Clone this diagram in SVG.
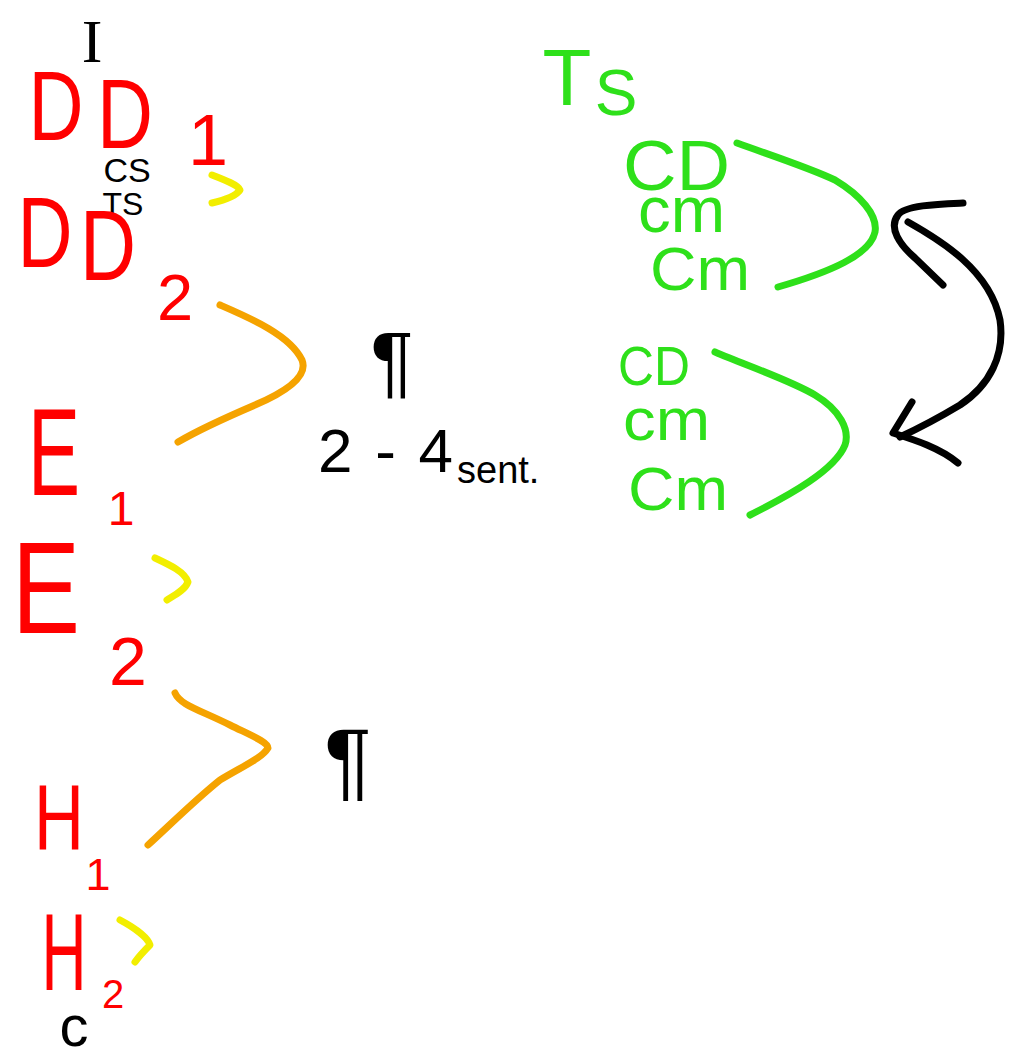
<svg xmlns="http://www.w3.org/2000/svg" width="1017" height="1057" viewBox="0 0 1017 1057">
<style>
.t{font-family:"Liberation Sans",Arial,sans-serif;text-anchor:middle}
.r{fill:#ff0000}.k{fill:#000}.g{fill:#2ee01a}
.s{fill:none;stroke-linecap:round;stroke-linejoin:round;stroke-width:7}
.yl{stroke:#f2ee00}.or{stroke:#f5a300}.gr{stroke:#2ee01a}.bk{stroke:#000}
</style>
<rect width="1017" height="1057" fill="#fff"/>
<g id="intro"><text class="k" x="92" y="62" font-family="Liberation Serif,serif" font-size="62" text-anchor="middle">I</text></g>
<g id="dd1">
<text class="t r" x="56" y="140" font-size="98" textLength="55" lengthAdjust="spacingAndGlyphs">D</text>
<text class="t r" x="125" y="148" font-size="98" textLength="56" lengthAdjust="spacingAndGlyphs">D</text>
<text class="t r" x="208" y="165" font-size="72">1</text>
<text class="t k" x="127" y="182" font-size="34">CS</text>
<text class="t k" x="123" y="215" font-size="32">TS</text>
</g>
<g id="dd2">
<text class="t r" x="45" y="267" font-size="100" textLength="55" lengthAdjust="spacingAndGlyphs">D</text>
<text class="t r" x="108" y="280" font-size="100" textLength="56" lengthAdjust="spacingAndGlyphs">D</text>
<text class="t r" x="175" y="320" font-size="65">2</text>
</g>
<g id="para1">
<text class="t k" x="392" y="388" font-size="80">¶</text>
<text class="k" x="318" y="472" font-family="Liberation Sans,sans-serif" font-size="62" textLength="135" lengthAdjust="spacing">2-4</text>
<text class="k" x="457" y="483" font-family="Liberation Sans,sans-serif" font-size="38">sent.</text>
</g>
<g id="e1">
<text class="t r" x="54" y="495" font-size="125" textLength="52" lengthAdjust="spacingAndGlyphs">E</text>
<text class="t r" x="121" y="525" font-size="48">1</text>
</g>
<g id="e2">
<text class="t r" x="46" y="633" font-size="130" textLength="68" lengthAdjust="spacingAndGlyphs">E</text>
<text class="t r" x="128" y="685" font-size="68">2</text>
</g>
<g id="para2"><text class="t k" x="348" y="790" font-size="88">¶</text></g>
<g id="h1">
<text class="t r" x="59" y="850" font-size="92" textLength="50" lengthAdjust="spacingAndGlyphs">H</text>
<text class="t r" x="98" y="890" font-size="45">1</text>
</g>
<g id="h2">
<text class="t r" x="64" y="990" font-size="110" textLength="45" lengthAdjust="spacingAndGlyphs">H</text>
<text class="t r" x="113" y="1008" font-size="40">2</text>
<text class="t k" x="74" y="1046" font-size="58">c</text>
</g>
<g id="ts-top">
<text class="t g" x="567" y="105" font-size="80">T</text>
<text class="t g" x="616" y="115" font-size="64">S</text>
<text class="g" x="623" y="190" font-family="Liberation Sans,sans-serif" font-size="70" textLength="107" lengthAdjust="spacingAndGlyphs">CD</text>
<text class="g" x="638" y="232" font-family="Liberation Sans,sans-serif" font-size="65" textLength="87" lengthAdjust="spacingAndGlyphs">cm</text>
<text class="g" x="650" y="290" font-family="Liberation Sans,sans-serif" font-size="62" textLength="100" lengthAdjust="spacingAndGlyphs">Cm</text>
</g>
<g id="ts-bottom">
<text class="g" x="618" y="385" font-family="Liberation Sans,sans-serif" font-size="56" textLength="72" lengthAdjust="spacingAndGlyphs">CD</text>
<text class="g" x="623" y="440" font-family="Liberation Sans,sans-serif" font-size="60" textLength="87" lengthAdjust="spacingAndGlyphs">cm</text>
<text class="g" x="628" y="510" font-family="Liberation Sans,sans-serif" font-size="62" textLength="100" lengthAdjust="spacingAndGlyphs">Cm</text>
</g>
<g id="connectors">
<path class="s yl" d="M212,175 C225,180 238,185 240,190 C236,196 225,200 212,203"/>
<path class="s yl" d="M155,558 C170,565 185,572 188,582 C185,590 175,595 167,600"/>
<path class="s yl" d="M120,920 C135,928 148,938 150,945 C145,950 140,955 135,962"/>
<path class="s or" d="M220,305 C250,318 290,335 302,360 C308,375 290,390 255,405 C220,420 195,432 178,442"/>
<path class="s or" d="M175,693 C180,705 200,710 230,725 C250,735 268,742 268,748 C262,758 245,765 220,780 C195,800 170,825 148,845"/>
<path class="s gr" d="M737,143 C770,155 810,168 835,180 C860,195 878,215 875,232 C870,255 830,272 778,287"/>
<path class="s gr" d="M715,352 C745,365 790,380 815,395 C840,410 850,430 845,445 C835,470 790,495 750,515"/>
<path class="s bk" d="M963,203 C940,204 905,205 898,215 C888,228 900,245 915,258 L943,285"/>
<path class="s bk" d="M908,222 C940,240 990,270 1000,320 C1005,355 990,385 960,405 C935,420 915,430 900,437"/>
<path class="s bk" d="M912,402 L893,433 C915,440 940,448 958,463"/>
</g>
</svg>
